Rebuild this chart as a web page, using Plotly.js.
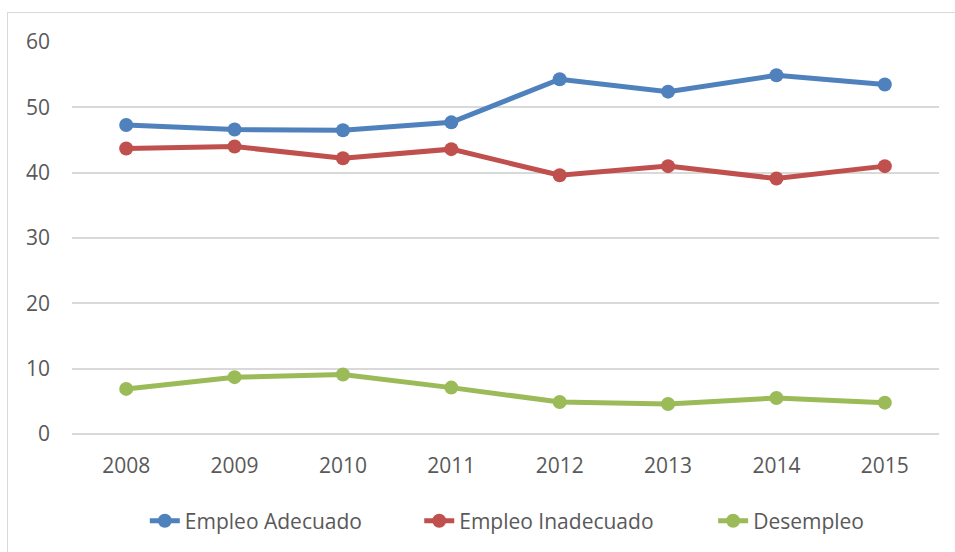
<!DOCTYPE html>
<html>
<head>
<meta charset="utf-8">
<script src="https://cdn.plot.ly/plotly-3.0.1.min.js"></script>
<style>
  html, body { margin: 0; padding: 0; background: #ffffff; }
  #wrap { position: relative; width: 955px; height: 552px; overflow: hidden; }
  #chart { position: absolute; left: 0; top: 0; width: 955px; height: 552px; }
  #frame { position: absolute; left: 7px; top: 12px; width: 1000px; height: 600px;
           border: 1.5px solid #d9d9d9; pointer-events: none; }
</style>
</head>
<body>
<div id="wrap">
  <div id="chart"></div>
  <div id="frame"></div>
</div>
<script>
const years = ["2008", "2009", "2010", "2011", "2012", "2013", "2014", "2015"];
const empleoAdecuado = [47.3, 46.6, 46.5, 47.7, 54.3, 52.4, 54.9, 53.5];
const empleoInadecuado = [43.7, 44.0, 42.2, 43.6, 39.6, 41.0, 39.1, 41.0];
const desempleo = [6.9, 8.7, 9.1, 7.1, 4.9, 4.6, 5.5, 4.8];
const seriesNames = ["Empleo Adecuado", "Empleo Inadecuado", "Desempleo"];
const seriesColors = ["#4F81BD", "#C0504D", "#9BBB59"];

const FONT = "'Open Sans', 'Liberation Sans', sans-serif";
const TXT = "#595959";

function mk(vals, i, lg) {
  return {
    type: "scatter", mode: "lines+markers",
    x: years, y: vals, name: seriesNames[i], legend: lg,
    line: { color: seriesColors[i], width: 5 },
    marker: { color: seriesColors[i], size: 14 },
    hoverinfo: "x+y+name"
  };
}

const data = [
  mk(empleoAdecuado, 0, "legend"),
  mk(empleoInadecuado, 1, "legend2"),
  mk(desempleo, 2, "legend3")
];

function lgd(x) {
  return {
    orientation: "h", x: x, xanchor: "left", y: -0.219, yanchor: "middle",
    font: { family: FONT, size: 21, color: TXT },
    bgcolor: "rgba(0,0,0,0)", borderwidth: 0
  };
}

const layout = {
  width: 955, height: 552,
  margin: { l: 72, r: 16, t: 42, b: 117, pad: 0 },
  paper_bgcolor: "#ffffff", plot_bgcolor: "#ffffff",
  font: { family: FONT, size: 21, color: TXT },
  showlegend: true,
  legend: lgd(0.084),
  legend2: lgd(0.4005),
  legend3: lgd(0.7395),
  xaxis: {
    type: "category", range: [-0.5, 7.5],
    showgrid: false, zeroline: false,
    showline: false, ticks: "",
    tickfont: { family: FONT, size: 21, color: TXT },
    ticklabelstandoff: 17,
    fixedrange: true
  },
  yaxis: {
    range: [0, 60], dtick: 10, tick0: 0,
    showgrid: true, gridcolor: "#d9d9d9", gridwidth: 1.5,
    zeroline: true, zerolinecolor: "#d9d9d9", zerolinewidth: 1.5,
    showline: false, ticks: "",
    tickfont: { family: FONT, size: 21, color: TXT },
    ticklabelstandoff: 21,
    fixedrange: true
  }
};

Plotly.newPlot("chart", data, layout, { displayModeBar: false, staticPlot: false });
</script>
</body>
</html>
